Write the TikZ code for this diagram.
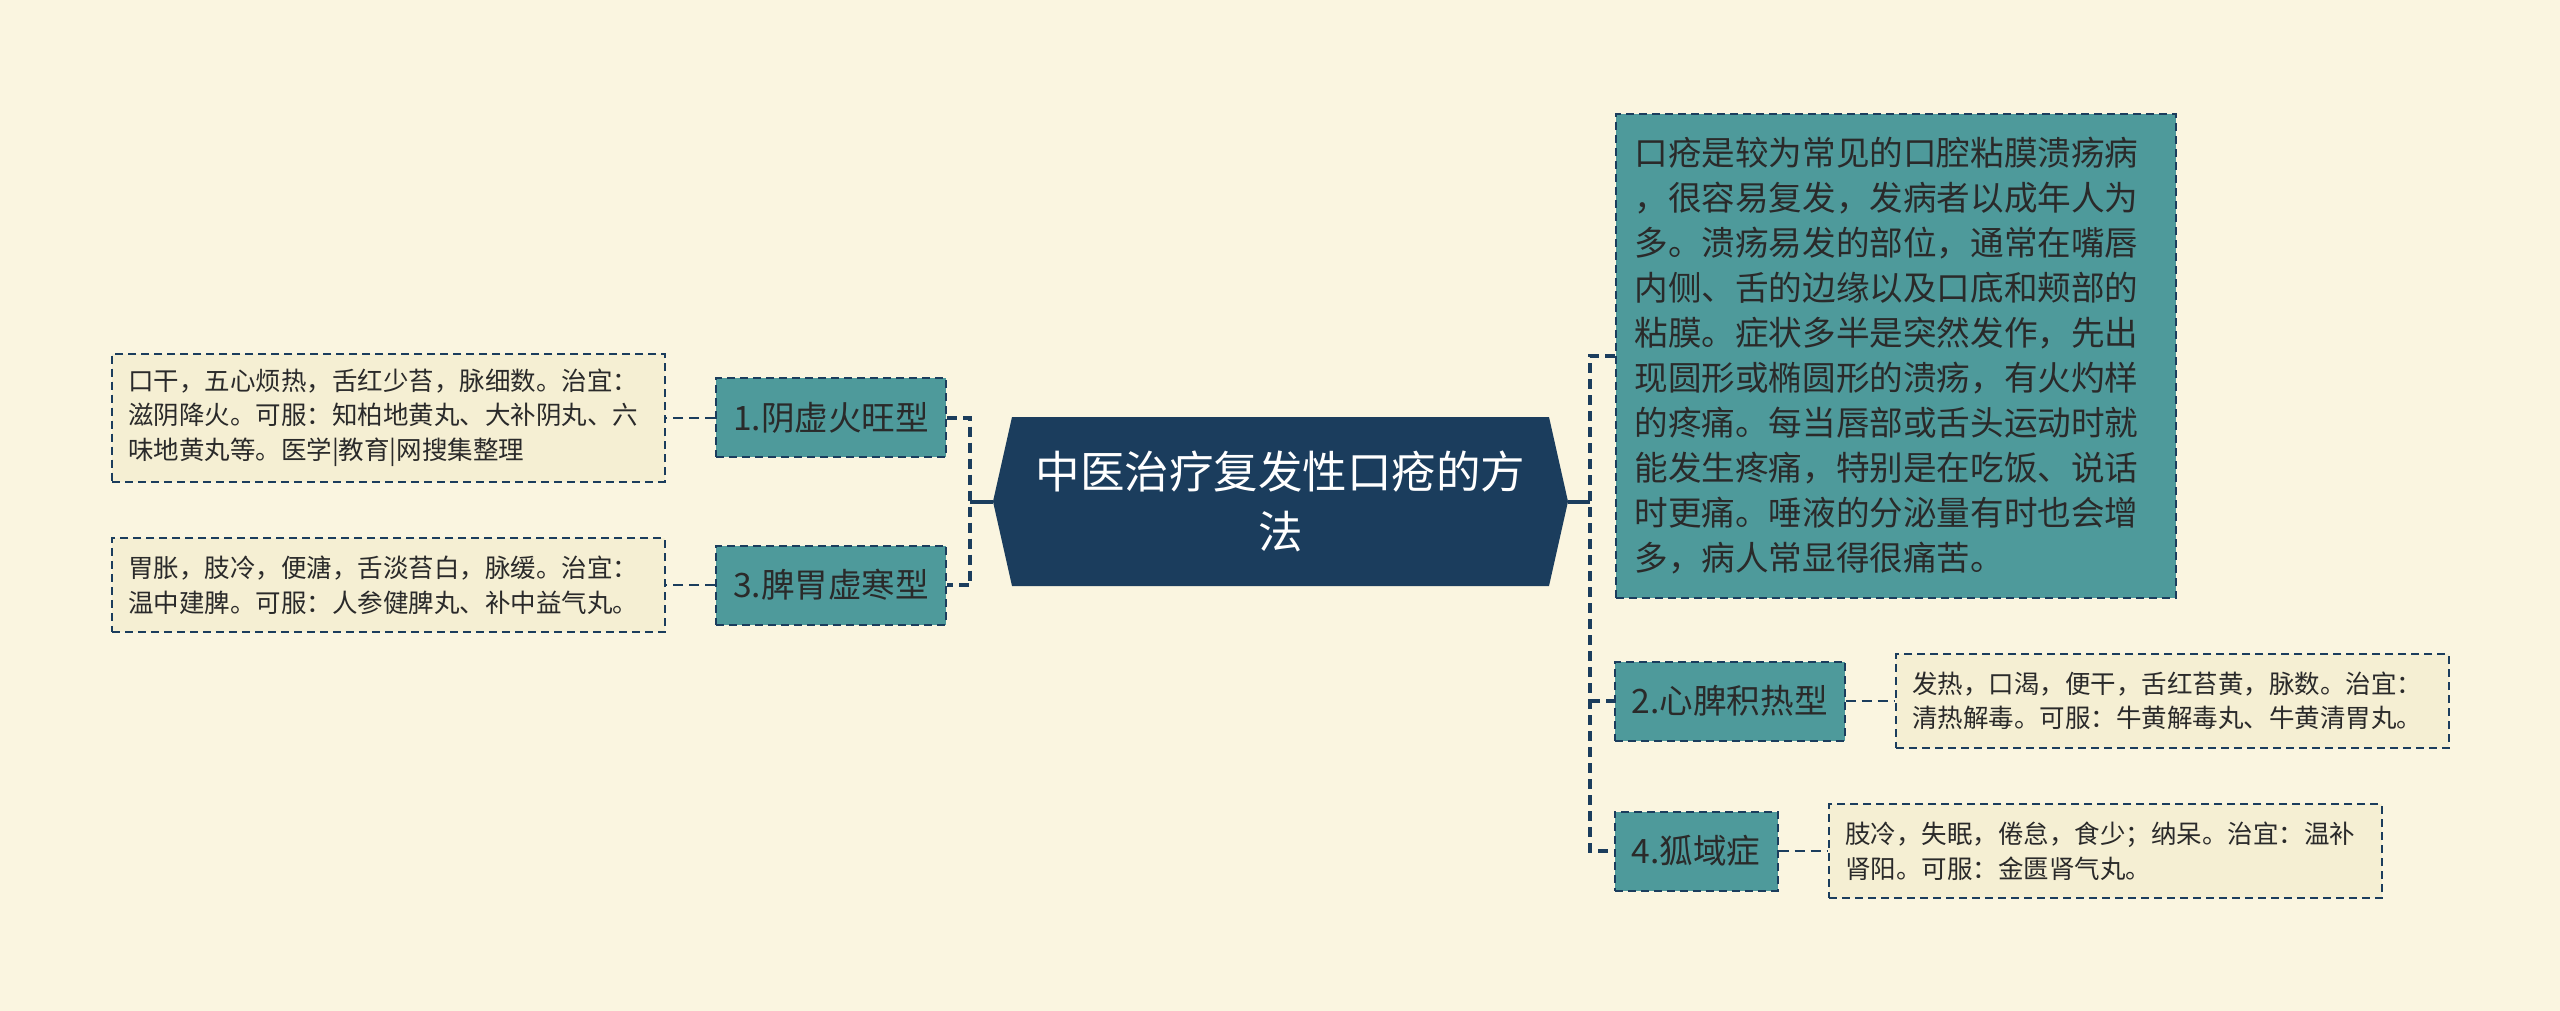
\documentclass[tikz,border=0pt]{standalone}
\usepackage{fontspec}
\setmainfont{Noto Sans CJK SC}
\usetikzlibrary{positioning}

\definecolor{fond}{HTML}{FAF5E0}
\definecolor{creme}{HTML}{F5EFD3}
\definecolor{sarcelle}{HTML}{4E9A9B}
\definecolor{marine}{HTML}{1B3D5D}
\definecolor{encre}{HTML}{2A2A2A}

\tikzstyle{racine}=[minimum width=575pt, minimum height=169pt, text=white, align=center, font=\fontsize{44.5}{60}\selectfont]
\tikzstyle{branche}=[draw=marine, fill=sarcelle, dash pattern=on 8pt off 5pt, line width=2pt, inner xsep=17pt, inner ysep=6pt, minimum height=79pt, text=encre, font=\fontsize{33.6}{45}\selectfont]
\tikzstyle{bloc}=[branche, inner xsep=19pt, text width=522pt, minimum height=484pt, align=left]
\tikzstyle{feuille}=[draw=marine, fill=creme, dash pattern=on 8pt off 5pt, line width=2pt, inner xsep=16pt, inner ysep=6pt, text width=520.5pt, minimum height=94pt, align=left, text=encre, font=\fontsize{25.5}{34.5}\selectfont]
\tikzstyle{lien}=[draw=marine, line width=2pt, dash pattern=on 10pt off 6pt]
\tikzstyle{bus}=[draw=marine, line width=4pt, dash pattern=on 10pt off 6pt]
\tikzstyle{tronc}=[draw=marine, line width=4pt]

\begin{document}
\begin{tikzpicture}[x=1pt, y=-1pt, node distance=49.5pt]

    \fill[fond] (0,0) rectangle (2560,1011);

    \fill[marine] (993,501.5) -- (1012,417) -- (1549,417) -- (1568,501.5) -- (1549,586) -- (1012,586) -- cycle;
    \node[ racine] (root) at (1280.5,501.5) {中医治疗复发性口疮的方\\法};

    \node[ branche, anchor=east] (b1) at (947,417.5) {1.阴虚火旺型};
    \node[ branche, anchor=east] (b3) at (947,585) {3.脾胃虚寒型};
    \node[ feuille, minimum height=128pt, left=of b1] (l1) {口干，五心烦热，舌红少苔，脉细数。治宜：\\滋阴降火。可服：知柏地黄丸、大补阴丸、六\\味地黄丸等。医学|教育|网搜集整理};
    \node[ feuille, left=of b3] (l3) {胃胀，肢冷，便溏，舌淡苔白，脉缓。治宜：\\温中建脾。可服：人参健脾丸、补中益气丸。};

    \node[ bloc, anchor=north west] (rb0) at (1614.5,112.7) {口疮是较为常见的口腔粘膜溃疡病\\，很容易复发，发病者以成年人为\\多。溃疡易发的部位，通常在嘴唇\\内侧、舌的边缘以及口底和颊部的\\粘膜。症状多半是突然发作，先出\\现圆形或椭圆形的溃疡，有火灼样\\的疼痛。每当唇部或舌头运动时就\\能发生疼痛，特别是在吃饭、说话\\时更痛。唾液的分泌量有时也会增\\多，病人常显得很痛苦。};
    \node[ branche, anchor=west] (b2) at (1613.7,701) {2.心脾积热型};
    \node[ branche, anchor=west] (b4) at (1613.7,851) {4.狐域症};
    \node[ feuille, right=of b2] (l2) {发热，口渴，便干，舌红苔黄，脉数。治宜：\\清热解毒。可服：牛黄解毒丸、牛黄清胃丸。};
    \node[ feuille, right=of b4] (l4) {肢冷，失眠，倦怠，食少；纳呆。治宜：温补\\肾阳。可服：金匮肾气丸。};

    \coordinate (lbus) at (970,501.5);
    \coordinate (rbus) at (1590,501.5);

    \draw[ tronc] (root.west) -- (lbus);
    \draw[ bus] (b1.east) -- (b1.east -| lbus) -- (b3.east -| lbus) -- (b3.east);
    \draw[ tronc] (root.east) -- (rbus);
    \draw[ bus] (rb0.west) -- (rb0.west -| rbus) -- (b4.west -| rbus) -- (b4.west);
    \draw[ bus] (b2.west -| rbus) -- (b2.west);

    \draw[ lien] (b1) -- (l1);
    \draw[ lien] (b3) -- (l3);
    \draw[ lien] (b2) -- (l2);
    \draw[ lien] (b4) -- (l4);

\end{tikzpicture}
\end{document}
